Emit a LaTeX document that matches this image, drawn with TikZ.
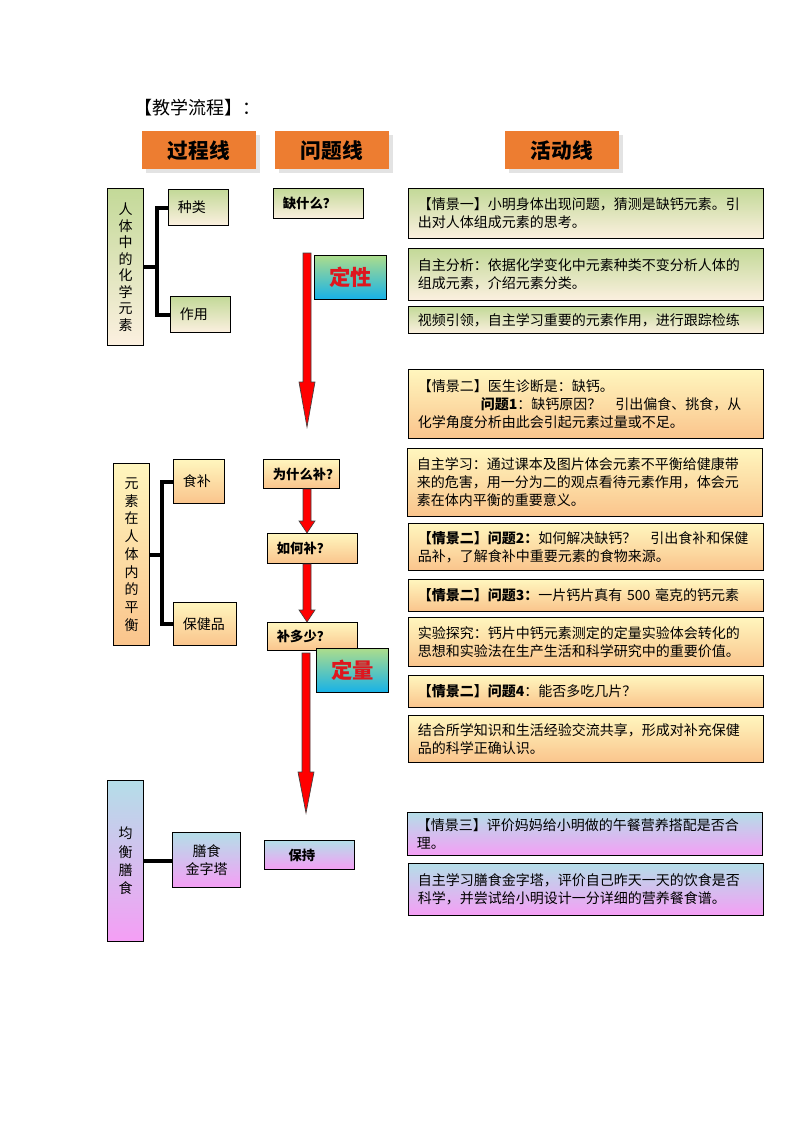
\documentclass[tikz,border=0pt]{standalone}
\usepackage{fontspec}
\setmainfont{Noto Sans CJK SC}
\usepackage{tikz}
\usetikzlibrary{calc,shadows}

\definecolor{hdorange}{RGB}{237,125,49}
\definecolor{grtop}{RGB}{195,217,152}
\definecolor{grbot}{RGB}{252,240,224}
\definecolor{yltop}{RGB}{255,246,190}
\definecolor{ylbot}{RGB}{250,196,140}
\definecolor{bptop}{RGB}{180,222,232}
\definecolor{bpbot}{RGB}{245,158,245}
\definecolor{skytop}{RGB}{172,220,140}
\definecolor{skybot}{RGB}{22,178,232}
\definecolor{dred}{RGB}{222,22,30}

\newcommand\blockarrow[3]{%
  \path[redarr] let \p1=#1, \p2=#2 in
    (\x1-3pt,\y1) -- (\x1+3pt,\y1) -- (\x1+3pt,\y2+#3) -- (\x1+6pt,\y2+#3)
    -- (\x1,\y2) -- (\x1-6pt,\y2+#3) -- (\x1-3pt,\y2+#3) -- cycle;}

\begin{document}
\begin{tikzpicture}[x=0.75pt,y=-0.75pt,
  hd/.style={fill=hdorange,anchor=north west,minimum width=85pt,minimum height=28.5pt,
    font=\fontsize{15.5pt}{18pt}\selectfont\bfseries,
    drop shadow={shadow xshift=3pt,shadow yshift=-3pt,fill=black!22}},
  bx/.style={draw,line width=.8pt,anchor=north west,align=left,inner xsep=7pt,
    inner ysep=2pt,font=\fontsize{10.5pt}{13.5pt}\selectfont},
  gr/.style={top color=grtop,bottom color=grbot},
  yl/.style={top color=yltop,bottom color=ylbot},
  bp/.style={top color=bptop,bottom color=bpbot},
  act/.style={bx,text width=252pt},
  vt/.style={bx,align=center,minimum width=27pt,inner xsep=0pt},
  qn/.style={bx,text width=53.5pt,font=\fontsize{10pt}{12pt}\selectfont\bfseries},
  lv/.style={draw,line width=.8pt,anchor=north west,top color=skytop,bottom color=skybot,
    minimum width=54pt,minimum height=33pt,text=dred,
    font=\fontsize{16pt}{18pt}\selectfont\bfseries},
  brk/.style={line width=3pt},
  redarr/.style={fill=red,draw=black!75,line width=.5pt}]
\useasboundingbox (0,0) rectangle (794,1123);
\node[anchor=west,inner sep=0pt,font=\fontsize{13.5pt}{16pt}\selectfont] (ttl) at (134,108) {【教学流程】：};
\node[hd] (hgc) at (142,131) {过程线};
\node[hd] (hwt) at (275,131) {问题线};
\node[hd] (hhd) at (505,131) {活动线};
% process line
\node[vt,gr,minimum height=117.75pt,font=\fontsize{10.5pt}{12.4pt}\selectfont] (L1) at (107,188)
  {人\\体\\中\\的\\化\\学\\元\\素};
\node[bx,gr,text width=31pt,minimum height=27pt] (zl) at (168,189) {种类};
\node[bx,gr,text width=31pt,minimum height=27pt] (zy) at (170,296) {作用};
\draw[brk] (zl.west) -- ++(-8.25pt,0) |- (zy.west);
\draw[brk] (L1.east) -- ++(10.5pt,0);
\node[vt,yl,minimum height=136.5pt,font=\fontsize{10.5pt}{13.3pt}\selectfont] (L2) at (113,463)
  {元\\素\\在\\人\\体\\内\\的\\平\\衡};
\node[bx,yl,text width=24.25pt,minimum height=33pt] (sb) at (173,459) {食补};
\node[bx,yl,text width=33.25pt,minimum height=32.25pt] (bj) at (173,602) {保健品};
\draw[brk] (sb.west) -- ++(-8.25pt,0) |- (bj.west);
\draw[brk] (L2.east) -- ++(9.75pt,0);
\node[vt,bp,minimum height=120.75pt,font=\fontsize{10.5pt}{13.7pt}\selectfont] (L3) at (107,780)
  {均\\衡\\膳\\食};
\node[bx,bp,align=center,text width=37pt,minimum height=41.25pt] (ss) at (172,832) {膳食\\金字塔};
\draw[brk] (L3.east) -- (L3.east -| ss.west);
% question line
\node[qn,gr,minimum height=22.5pt] (q1) at (273,188) {缺什么？};
\node[qn,yl,text width=43pt,minimum height=21.75pt] (q2) at (263,459) {为什么补？};
\node[qn,yl,minimum height=22.5pt] (q3) at (267,533) {如何补？};
\node[qn,yl,minimum height=21pt] (q4) at (267,622) {补多少？};
\node[qn,bp,minimum height=21.75pt] (q5) at (264,840) {\hspace*{11pt}保持};
\node[lv] (dx) at (314,255) {定性};
\node[lv] (dl) at (316,648) {定量};
\coordinate (ax) at (307,0);
\coordinate (d1s) at (307,253);
\coordinate (d1e) at (307,427);
\coordinate (d2s) at (306,653);
\coordinate (d2e) at (306,813);
\blockarrow{(d1s)}{(d1e)}{33.75pt}
\blockarrow{(q2.south -| ax)}{(q3.north -| ax)}{9pt}
\blockarrow{(q3.south -| ax)}{(q4.north -| ax)}{9pt}
\blockarrow{(d2s)}{(d2e)}{30.75pt}
% activity line
\node[act,gr,minimum height=37.5pt] (a1) at (408,188)
  {【情景一】小明身体出现问题，猜测是缺钙元素。引\\出对人体组成元素的思考。};
\node[act,gr,minimum height=39pt] (a2) at (408,248)
  {自主分析：依据化学变化中元素种类不变分析人体的\\组成元素，介绍元素分类。};
\node[act,gr,minimum height=20.25pt] (a3) at (408,306)
  {视频引领，自主学习重要的元素作用，进行跟踪检练};
\node[act,yl,minimum height=51.75pt] (a4) at (408,369)
  {【情景二】医生诊断是：缺钙。\\\hspace*{4.5em}\textbf{问题1}：缺钙原因？\hspace{1em}引出偏食、挑食，从\\化学角度分析由此会引起元素过量或不足。};
\node[act,yl,minimum height=51pt] (a5) at (407,448)
  {自主学习：通过课本及图片体会元素不平衡给健康带\\来的危害，用一分为二的观点看待元素作用，体会元\\素在体内平衡的重要意义。};
\node[act,yl,minimum height=35.25pt] (a6) at (408,523)
  {\textbf{【情景二】问题2：}如何解决缺钙？\hspace{1em}引出食补和保健\\品补，了解食补中重要元素的食物来源。};
\node[act,yl,minimum height=24pt] (a7) at (408,579)
  {\textbf{【情景二】问题3：}一片钙片真有 500 毫克的钙元素};
\node[act,yl,minimum height=36.75pt] (a8) at (408,617)
  {实验探究：钙片中钙元素测定的定量实验体会转化的\\思想和实验法在生产生活和科学研究中的重要价值。};
\node[act,yl,minimum height=24pt] (a9) at (408,675)
  {\textbf{【情景二】问题4}：能否多吃几片？};
\node[act,yl,minimum height=35.25pt] (a10) at (408,715)
  {结合所学知识和生活经验交流共享，形成对补充保健\\品的科学正确认识。};
\node[act,bp,minimum height=32.25pt] (a11) at (407,812)
  {【情景三】评价妈妈给小明做的午餐营养搭配是否合\\理。};
\node[act,bp,minimum height=39pt] (a12) at (408,863)
  {自主学习膳食金字塔，评价自己昨天一天的饮食是否\\科学，并尝试给小明设计一分详细的营养餐食谱。};
\end{tikzpicture}
\end{document}
